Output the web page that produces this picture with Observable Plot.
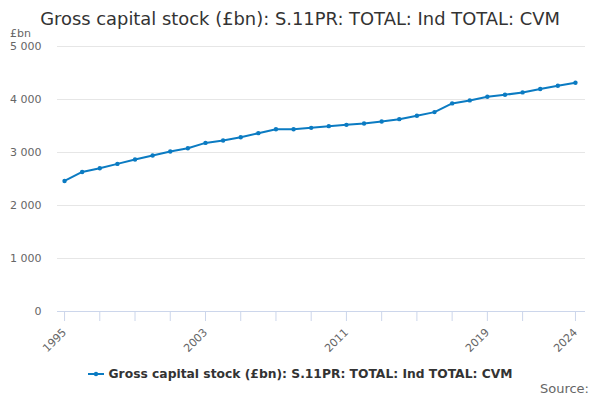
<!DOCTYPE html>
<html>
<head>
<meta charset="utf-8">
<script src="https://cdn.jsdelivr.net/npm/d3@7"></script>
<script src="https://cdn.jsdelivr.net/npm/@observablehq/plot@0.6"></script>
<style>
  html, body { margin: 0; padding: 0; background: #fff; }
  #wrap { position: relative; width: 600px; height: 400px; overflow: hidden; font-family: "DejaVu Sans", sans-serif; }
  #title { position: absolute; top: 8px; left: 0; width: 600px; text-align: center; font-size: 17.9px; color: #333; }
  #unit { position: absolute; top: 27px; left: 10px; font-size: 11px; color: #666; }
  #chart { position: absolute; top: 0; left: 0; }
  #legend { position: absolute; top: 367px; left: 0; width: 600px; display: flex; justify-content: center; align-items: center; font-size: 12.3px; font-weight: bold; color: #333; }
  #legend svg { margin-right: 5px; }
  #source { position: absolute; top: 381px; right: 11px; font-size: 13px; color: #666; }
</style>
</head>
<body>
<div id="wrap">
  <div id="chart"></div>
  <div id="title">Gross capital stock (£bn): S.11PR: TOTAL: Ind TOTAL: CVM</div>
  <div id="unit">£bn</div>
  <div id="legend"></div>
  <div id="source">Source:</div>
</div>
<script>
const seriesName = "Gross capital stock (£bn): S.11PR: TOTAL: Ind TOTAL: CVM";
const years = [1995,1996,1997,1998,1999,2000,2001,2002,2003,2004,2005,2006,2007,2008,2009,2010,2011,2012,2013,2014,2015,2016,2017,2018,2019,2020,2021,2022,2023,2024];
const values = [2463,2633,2703,2785,2868,2943,3019,3081,3181,3227,3289,3365,3440,3440,3465,3497,3522,3548,3586,3629,3692,3762,3926,3983,4051,4089,4134,4197,4259,4316];
const tickYears = [1995,1997,1999,2001,2003,2005,2007,2009,2011,2013,2015,2017,2019,2021,2024];
const labelYears = [1995,2003,2011,2019,2024];
const yTicks = [0,1000,2000,3000,4000,5000];
const lineColor = "#0b7bc2";

const data = years.map((y, i) => ({year: y, value: values[i]}));
const fmt = d => d3.format(",")(d).replace(/,/g, " ");

const chart = Plot.plot({
  width: 600,
  height: 340,
  marginTop: 46,
  marginBottom: 29,
  marginLeft: 57,
  marginRight: 15,
  x: {domain: [1994.6, 2024.57], axis: null},
  y: {domain: [0, 5000], axis: null},
  style: {fontFamily: "DejaVu Sans", fontSize: "11px", overflow: "visible", background: "transparent"},
  marks: [
    Plot.gridY(yTicks.filter(d => d > 0), {stroke: "#e6e6e6", strokeOpacity: 1}),
    Plot.axisY(yTicks, {tickSize: 0, tickPadding: 16, tickFormat: fmt, fill: "#666", label: null}),
    Plot.ruleY([0], {stroke: "#ccd6eb"}),
    Plot.axisX(tickYears, {tickSize: 10, stroke: "#ccd6eb", strokeOpacity: 1, tickFormat: () => "", label: null}),
    Plot.axisX(labelYears, {tickSize: 0, tickPadding: 19, tickRotate: -45, fill: "#666", tickFormat: d => String(d), label: null}),
    Plot.line(data, {x: "year", y: "value", stroke: lineColor, strokeWidth: 2}),
    Plot.dot(data, {x: "year", y: "value", r: 2.2, fill: lineColor, stroke: "none"})
  ]
});
document.getElementById("chart").appendChild(chart);

const legend = document.getElementById("legend");
legend.innerHTML = `<svg width="16" height="10"><line x1="0" x2="16" y1="5" y2="5" stroke="${lineColor}" stroke-width="2"/><circle cx="8" cy="5" r="2.2" fill="${lineColor}"/></svg><span>${seriesName}</span>`;
</script>
</body>
</html>
